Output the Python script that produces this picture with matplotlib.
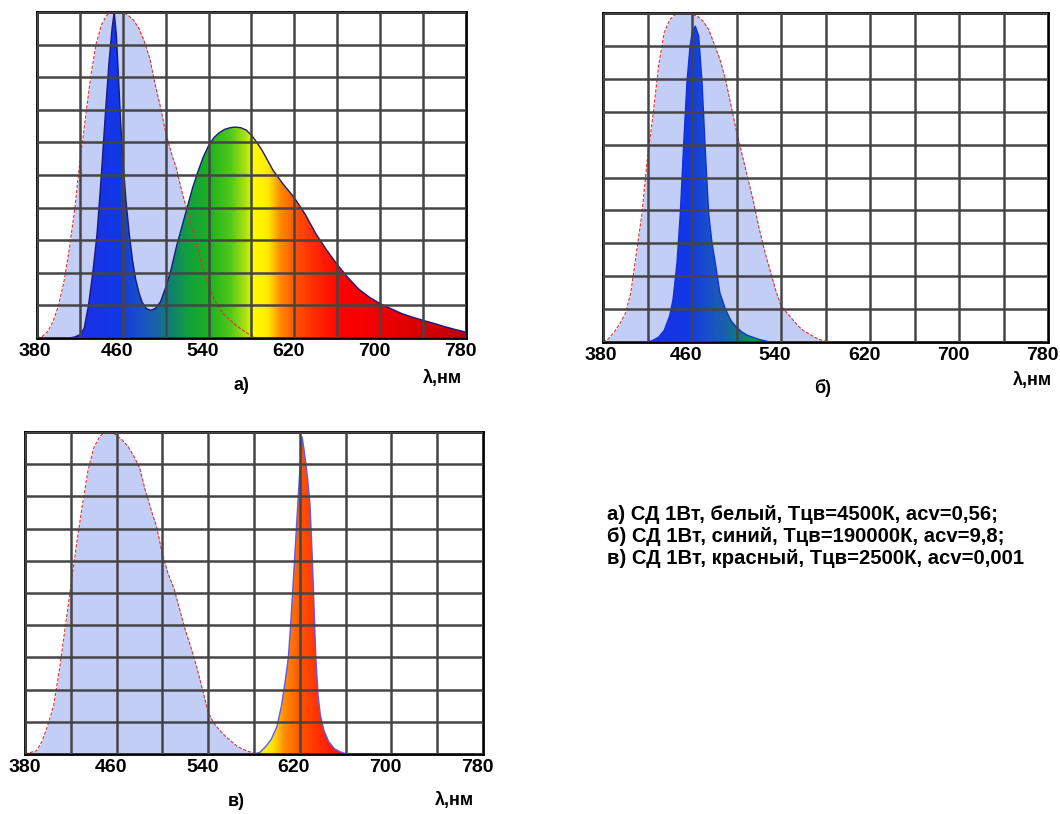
import numpy as np
import matplotlib.pyplot as plt
from matplotlib.colors import LinearSegmentedColormap
from matplotlib.patches import Polygon

plt.rcParams['font.family'] = ['Liberation Sans', 'DejaVu Sans']

# а) белый СД: кривая чувствительности (голубая) и спектр СД
wl_a_eye = [380, 385, 390, 395, 400, 405, 410, 415, 420, 425, 430, 435, 440, 445, 450,
            455, 460, 465, 470, 475, 480, 485, 490, 495, 500, 505, 510, 515, 520, 525,
            530, 535, 540, 545, 550, 555, 560, 565, 570, 575, 580, 585]
v_a_eye = [0.0, 0.005, 0.02, 0.05, 0.1, 0.17, 0.27, 0.39, 0.54, 0.67, 0.8, 0.9, 0.96, 0.99, 1.0,
           1.0, 1.0, 0.99, 0.975, 0.95, 0.91, 0.86, 0.78, 0.71, 0.63, 0.57, 0.52, 0.45, 0.39, 0.33,
           0.27, 0.21, 0.16, 0.12, 0.09, 0.07, 0.055, 0.04, 0.028, 0.017, 0.007, 0.0]
wl_a_led = [380, 410, 415, 420, 424, 428, 432, 436, 440, 444, 447, 450, 452, 454, 456, 458,
            460, 463, 466, 469, 472, 475, 478, 482, 486, 490, 495, 500, 505, 510, 515, 520,
            525, 530, 535, 540, 545, 550, 555, 560, 565, 570, 575, 580, 585, 590, 595, 600,
            610, 620, 630, 640, 650, 660, 670, 680, 690, 700, 710, 720, 730, 740, 750, 760,
            770, 780]
v_a_led = [0.0, 0.0, 0.003, 0.01, 0.03, 0.1, 0.2, 0.32, 0.5, 0.7, 0.84, 0.95, 1.0, 0.93, 0.8, 0.66,
           0.55, 0.42, 0.32, 0.24, 0.18, 0.14, 0.11, 0.09, 0.085, 0.09, 0.11, 0.155, 0.21, 0.28, 0.34, 0.4,
           0.46, 0.51, 0.555, 0.59, 0.615, 0.63, 0.64, 0.645, 0.647, 0.645, 0.638, 0.622, 0.6, 0.575, 0.545, 0.515,
           0.47, 0.43, 0.38, 0.32, 0.27, 0.225, 0.185, 0.15, 0.125, 0.105, 0.09, 0.075, 0.064, 0.054, 0.045, 0.035,
           0.026, 0.018]

# б) синий СД
wl_b_eye = [380, 385, 390, 395, 400, 405, 410, 415, 420, 425, 430, 435, 440, 445, 450, 455,
            460, 465, 470, 475, 480, 485, 490, 495, 500, 505, 510, 515, 520, 525, 530, 535,
            540, 545, 550, 555, 560, 565, 570, 575, 580, 585, 780]
v_b_eye = [0.0, 0.01, 0.03, 0.055, 0.085, 0.15, 0.27, 0.39, 0.56, 0.69, 0.84, 0.94, 0.98, 0.995, 1.0, 1.0,
           0.995, 0.99, 0.975, 0.95, 0.905, 0.86, 0.8, 0.72, 0.64, 0.57, 0.5, 0.43, 0.35, 0.28, 0.22, 0.16,
           0.11, 0.09, 0.07, 0.05, 0.035, 0.025, 0.015, 0.007, 0.002, 0.0, 0.0]
wl_b_led = [380, 420, 425, 430, 435, 440, 443, 446.5, 449.5, 452.5, 455.5, 458, 460, 463, 466,
            469, 472, 475, 478, 480, 485, 490, 495, 500, 505, 510, 520, 530, 780]
v_b_led = [0.0, 0.0, 0.005, 0.015, 0.035, 0.08, 0.13, 0.24, 0.39, 0.6, 0.79, 0.89, 0.94, 0.96, 0.93,
           0.79, 0.58, 0.39, 0.3, 0.26, 0.15, 0.1, 0.065, 0.045, 0.03, 0.02, 0.008, 0.0, 0.0]

# в) красный СД
wl_c_eye = [380, 390, 395, 400, 405, 410, 415, 420, 425, 430, 435, 440, 445, 450, 455, 460,
            465, 470, 475, 480, 485, 490, 495, 500, 505, 510, 515, 520, 525, 530, 535, 540,
            545, 550, 555, 560, 565, 570, 575, 580, 585, 780]
v_c_eye = [0.0, 0.01, 0.04, 0.09, 0.15, 0.26, 0.39, 0.52, 0.65, 0.77, 0.88, 0.95, 0.985, 1.0, 1.0, 0.99,
           0.975, 0.955, 0.925, 0.89, 0.82, 0.76, 0.705, 0.62, 0.56, 0.515, 0.45, 0.385, 0.33, 0.27, 0.2, 0.13,
           0.095, 0.074, 0.055, 0.04, 0.025, 0.015, 0.008, 0.003, 0.0, 0.0]
wl_c_led = [380, 580, 585, 590, 595, 600, 604, 607, 610, 612, 614.5, 617.5, 620, 622, 623.5, 625,
            627, 629, 631, 632.5, 634, 636, 638, 641, 645, 650, 655, 661, 780]
v_c_led = [0.0, 0.0, 0.005, 0.022, 0.045, 0.085, 0.15, 0.22, 0.3, 0.4, 0.55, 0.73, 0.88, 0.985, 0.95, 0.91,
           0.85, 0.77, 0.6, 0.45, 0.3, 0.18, 0.12, 0.074, 0.04, 0.017, 0.007, 0.0, 0.0]

x_ticks = [380, 460, 540, 620, 700, 780]
captions = ['а)', 'б)', 'в)']
legend_lines = ['а) СД 1Вт, белый, Тцв=4500К, acv=0,56;',
                'б) СД 1Вт, синий, Тцв=190000К, acv=9,8;',
                'в) СД 1Вт, красный, Тцв=2500К, acv=0,001']

# спектральная шкала цветов
spec_stops = [(380, '#2a14c8'), (420, '#1a30e8'), (455, '#1238e6'), (475, '#1a50c8'),
              (490, '#1a62a8'), (505, '#108070'), (520, '#12a040'), (540, '#1cb020'),
              (560, '#50c81a'), (574, '#a8e010'), (579, '#d8f000'), (581, '#ffff00'),
              (596, '#ffe800'), (606, '#ff9000'), (622, '#ff5000'), (645, '#ff2000'),
              (665, '#ff0000'), (700, '#f00000'), (740, '#d80000'), (780, '#b80010')]
cmap = LinearSegmentedColormap.from_list(
    'spec', [((w - 380) / 400, c) for w, c in spec_stops])

EYE_FILL = '#c3cef7'
EYE_EDGE = '#e03030'


def panel(fig, rect, wl_eye, v_eye, wl_led, v_led, led_edge, first_dx):
    ax = fig.add_axes(rect)
    ax.fill_between(wl_eye, v_eye, color=EYE_FILL, lw=0, zorder=1)
    x = np.asarray(wl_led, float)
    y = np.asarray(v_led, float)
    poly = Polygon(np.column_stack([np.r_[x, x[::-1]], np.r_[y, np.zeros_like(y)]]),
                   closed=True, fc='none', ec='none')
    ax.add_patch(poly)
    grad = np.linspace(380, 780, 800)[None, :]
    im = ax.imshow(grad, extent=[380, 780, 0, 1], aspect='auto', cmap=cmap,
                   vmin=380, vmax=780, origin='lower', zorder=1.5)
    im.set_clip_path(poly)
    ax.plot(x, y, color=led_edge, lw=1.0, zorder=2)
    ax.plot(wl_eye, v_eye, color=EYE_EDGE, lw=0.8, ls=(0, (3, 1.5)), zorder=2.2)

    ax.set_xlim(380, 780)
    ax.set_ylim(0, 1.0)
    ax.set_xticks(np.arange(380, 781, 40))
    ax.set_yticks(np.arange(0, 1.01, 0.1))
    ax.set_xticklabels([])
    ax.set_yticklabels([])
    ax.tick_params(length=0)
    # подписи в оригинале чуть левее линий сетки
    for i, t in enumerate(x_ticks):
        ax.annotate(str(t), xy=(t, 0), xycoords=('data', 'axes fraction'),
                    xytext=(first_dx if i == 0 else -6, -14), textcoords='offset pixels',
                    ha='center', va='center', fontsize=14, fontweight='bold',
                    annotation_clip=False)
    ax.set_axisbelow(False)
    ax.grid(True, color='#454545', lw=1.8)
    for s in ax.spines.values():
        s.set_linewidth(2)
        s.set_color('black')
    return ax


W, H = 1060, 814
fig = plt.figure(figsize=(W / 100, H / 100), dpi=100)


def fr(left, top, right, bottom):
    return [left / W, 1 - bottom / H, (right - left) / W, (bottom - top) / H]


panel(fig, fr(37, 12, 466, 338), wl_a_eye, v_a_eye, wl_a_led, v_a_led, '#1a1a80', -2)
panel(fig, fr(603, 13, 1048, 342), wl_b_eye, v_b_eye, wl_b_led, v_b_led, '#1030e0', -2)
panel(fig, fr(25, 432, 483, 754), wl_c_eye, v_c_eye, wl_c_led, v_c_led, '#5a5aff', 0)

for (px, py), txt in zip([(241, 385), (823, 388), (236, 802)], captions):
    fig.text(px / W, 1 - py / H, txt, fontsize=13, fontweight='bold',
             ha='center', va='center')
for px, py in [(442, 378), (1032, 381), (454, 800)]:
    fig.text(px / W, 1 - py / H, 'λ,нм', fontsize=13, fontweight='bold',
             ha='center', va='center')

for i, line in enumerate(legend_lines):
    fig.text(607 / W, 1 - (515 + 22 * i) / H, line, fontsize=14.6, fontweight='bold',
             ha='left', va='center')

fig.savefig('out.png', dpi=100)
